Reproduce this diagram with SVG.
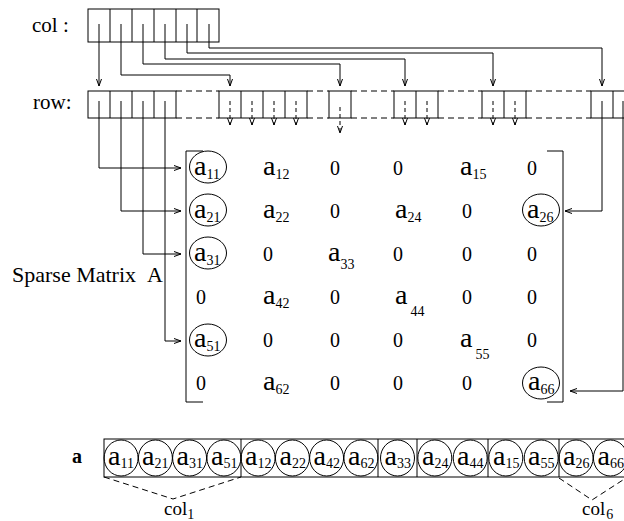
<svg xmlns="http://www.w3.org/2000/svg" width="624" height="521" viewBox="0 0 624 521">
<style>
.ln{stroke:#000;stroke-width:1;fill:none}
.dl{stroke:#000;stroke-width:1;fill:none;stroke-dasharray:6 4}
.dp{stroke:#000;stroke-width:1;fill:none;stroke-dasharray:4 3}
.t{font-family:"Liberation Serif","Times New Roman",serif;fill:#000}
.a{font-size:28px}
.s{font-size:14px}
.z{font-size:20px}
.lbl{font-size:21px}
.cir{stroke:#000;stroke-width:1;fill:none}
</style>
<defs>
<marker id="arr" markerUnits="userSpaceOnUse" markerWidth="10" markerHeight="8" viewBox="-8 -4 10 8" refX="0" refY="0" orient="auto">
<path d="M-7,-2.5 L0,0 L-7,2.5" fill="none" stroke="#000" stroke-width="1"/>
</marker>
</defs>
<rect width="624" height="521" fill="#fff"/>

<g id="labels">
<text class="t lbl" x="32" y="32">col :</text>
<text class="t lbl" x="33" y="109">row:</text>
<text class="t" style="font-size:22px" x="12" y="282">Sparse Matrix<tspan x="147">A</tspan></text>
<text class="t" style="font-size:20px;font-weight:bold" x="72" y="463">a</text>
</g>

<g id="col-array">
<rect class="ln" x="88" y="9" width="131" height="33"/>
<path class="ln" d="M110,9V42M132,9V42M154,9V42M176,9V42M197,9V42"/>
</g>

<g id="row-array">
<rect class="ln" x="88" y="91" width="88" height="27"/>
<path class="ln" d="M110,91V118M132,91V118M154,91V118"/>
<rect class="ln" x="219" y="91" width="88" height="27"/>
<path class="ln" d="M241,91V118M263,91V118M285,91V118"/>
<rect class="ln" x="329" y="91" width="22" height="27"/>
<rect class="ln" x="394" y="91" width="44" height="27"/>
<path class="ln" d="M416,91V118"/>
<rect class="ln" x="482" y="91" width="44" height="27"/>
<path class="ln" d="M504,91V118"/>
<rect class="ln" x="591" y="91" width="44" height="27"/>
<path class="ln" d="M613,91V118"/>
<path class="dl" d="M176,91H219M176,118H219M307,91H329M307,118H329M351,91H394M351,118H394M438,91H482M438,118H482M526,91H591M526,118H591"/>
</g>

<g id="connectors">
<path class="ln" marker-end="url(#arr)" d="M99,24V86"/>
<path class="ln" marker-end="url(#arr)" d="M121,24V75H230V86"/>
<path class="ln" marker-end="url(#arr)" d="M143,24V64H340V86"/>
<path class="ln" marker-end="url(#arr)" d="M165,24V59H405V86"/>
<path class="ln" marker-end="url(#arr)" d="M187,24V53H493V86"/>
<path class="ln" marker-end="url(#arr)" d="M209,24V48H602V86"/>
<path class="ln" marker-end="url(#arr)" d="M99,101V168H181"/>
<path class="ln" marker-end="url(#arr)" d="M121,101V211H181"/>
<path class="ln" marker-end="url(#arr)" d="M143,101V254H181"/>
<path class="ln" marker-end="url(#arr)" d="M165,101V341H181"/>
<path class="ln" marker-end="url(#arr)" d="M602,101V211H565"/>
<path class="ln" marker-end="url(#arr)" d="M623,101V391H570"/>
<path class="dp" marker-end="url(#arr)" d="M230,101V125"/>
<path class="dp" marker-end="url(#arr)" d="M252,101V125"/>
<path class="dp" marker-end="url(#arr)" d="M274,101V125"/>
<path class="dp" marker-end="url(#arr)" d="M296,101V125"/>
<path class="dp" marker-end="url(#arr)" d="M340,107V133"/>
<path class="dp" marker-end="url(#arr)" d="M405,101V125"/>
<path class="dp" marker-end="url(#arr)" d="M427,101V125"/>
<path class="dp" marker-end="url(#arr)" d="M493,101V125"/>
<path class="dp" marker-end="url(#arr)" d="M515,101V125"/>
<path class="dl" d="M104,477L173,499L241,477"/>
<path class="dl" d="M559,478L592,500L626,478"/>
</g>

<g id="matrix">
<path class="ln" d="M203,151H186V402H203"/>
<path class="ln" d="M547,151H563V402H547"/>
<ellipse class="cir" cx="208" cy="167" rx="18.5" ry="16"/>
<ellipse class="cir" cx="208" cy="210" rx="18.5" ry="16"/>
<ellipse class="cir" cx="208" cy="253" rx="18.5" ry="16"/>
<ellipse class="cir" cx="208" cy="340" rx="18.5" ry="16"/>
<ellipse class="cir" cx="541" cy="210" rx="18.5" ry="16"/>
<ellipse class="cir" cx="541" cy="383" rx="18.5" ry="16"/>
<!-- row 1 -->
<text class="t" x="194" y="175"><tspan class="a">a</tspan><tspan class="s" dy="4">11</tspan></text>
<text class="t" x="263" y="175"><tspan class="a">a</tspan><tspan class="s" dy="4">12</tspan></text>
<text class="t z" x="330" y="175">0</text>
<text class="t z" x="393" y="175">0</text>
<text class="t" x="460" y="175"><tspan class="a">a</tspan><tspan class="s" dy="4">15</tspan></text>
<text class="t z" x="527" y="175">0</text>
<!-- row 2 -->
<text class="t" x="194" y="218"><tspan class="a">a</tspan><tspan class="s" dy="4">21</tspan></text>
<text class="t" x="263" y="218"><tspan class="a">a</tspan><tspan class="s" dy="4">22</tspan></text>
<text class="t z" x="330" y="218">0</text>
<text class="t" x="395" y="218"><tspan class="a">a</tspan><tspan class="s" dy="4">24</tspan></text>
<text class="t z" x="462" y="218">0</text>
<text class="t" x="527" y="218"><tspan class="a">a</tspan><tspan class="s" dy="4">26</tspan></text>
<!-- row 3 -->
<text class="t" x="194" y="261"><tspan class="a">a</tspan><tspan class="s" dy="4">31</tspan></text>
<text class="t z" x="263" y="261">0</text>
<text class="t" x="328" y="261"><tspan class="a">a</tspan><tspan class="s" dy="8">33</tspan></text>
<text class="t z" x="393" y="261">0</text>
<text class="t z" x="462" y="261">0</text>
<text class="t z" x="527" y="261">0</text>
<!-- row 4 -->
<text class="t z" x="196" y="304">0</text>
<text class="t" x="263" y="304"><tspan class="a">a</tspan><tspan class="s" dy="4">42</tspan></text>
<text class="t z" x="330" y="304">0</text>
<text class="t" x="395" y="304"><tspan class="a">a</tspan><tspan class="s" dx="3" dy="12">44</tspan></text>
<text class="t z" x="462" y="304">0</text>
<text class="t z" x="527" y="304">0</text>
<!-- row 5 -->
<text class="t" x="194" y="347"><tspan class="a">a</tspan><tspan class="s" dy="4">51</tspan></text>
<text class="t z" x="263" y="347">0</text>
<text class="t z" x="330" y="347">0</text>
<text class="t z" x="393" y="347">0</text>
<text class="t" x="460" y="347"><tspan class="a">a</tspan><tspan class="s" dx="3" dy="12">55</tspan></text>
<text class="t z" x="527" y="347">0</text>
<!-- row 6 -->
<text class="t z" x="196" y="390">0</text>
<text class="t" x="263" y="390"><tspan class="a">a</tspan><tspan class="s" dy="4">62</tspan></text>
<text class="t z" x="330" y="390">0</text>
<text class="t z" x="393" y="390">0</text>
<text class="t z" x="462" y="390">0</text>
<text class="t" x="528" y="390"><tspan class="a">a</tspan><tspan class="s" dy="4">66</tspan></text>
</g>

<g id="value-array">
<rect class="ln" x="104" y="439" width="532" height="38"/>
<path class="ln" d="M241,439V477M378,439V477M417,439V477M488,439V477M559,439V477"/>
<g class="cir">
<ellipse cx="121.1" cy="458" rx="17" ry="18"/>
<ellipse cx="155.4" cy="458" rx="17" ry="18"/>
<ellipse cx="189.6" cy="458" rx="17" ry="18"/>
<ellipse cx="223.9" cy="458" rx="17" ry="18"/>
<ellipse cx="258.1" cy="458" rx="17" ry="18"/>
<ellipse cx="292.4" cy="458" rx="17" ry="18"/>
<ellipse cx="326.6" cy="458" rx="17" ry="18"/>
<ellipse cx="360.9" cy="458" rx="17" ry="18"/>
<ellipse cx="397.5" cy="458" rx="17" ry="18"/>
<ellipse cx="434.8" cy="458" rx="17" ry="18"/>
<ellipse cx="470.2" cy="458" rx="17" ry="18"/>
<ellipse cx="505.8" cy="458" rx="17" ry="18"/>
<ellipse cx="541.2" cy="458" rx="17" ry="18"/>
<ellipse cx="576.1" cy="458" rx="17" ry="18"/>
<ellipse cx="610.4" cy="458" rx="17" ry="18"/>
</g>
<text class="t" x="108" y="465"><tspan class="a">a</tspan><tspan class="s" dy="3">11</tspan></text>
<text class="t" x="142" y="465"><tspan class="a">a</tspan><tspan class="s" dy="3">21</tspan></text>
<text class="t" x="176.5" y="465"><tspan class="a">a</tspan><tspan class="s" dy="3">31</tspan></text>
<text class="t" x="211" y="465"><tspan class="a">a</tspan><tspan class="s" dy="3">51</tspan></text>
<text class="t" x="245" y="465"><tspan class="a">a</tspan><tspan class="s" dy="3">12</tspan></text>
<text class="t" x="279.5" y="465"><tspan class="a">a</tspan><tspan class="s" dy="3">22</tspan></text>
<text class="t" x="313.5" y="465"><tspan class="a">a</tspan><tspan class="s" dy="3">42</tspan></text>
<text class="t" x="348" y="465"><tspan class="a">a</tspan><tspan class="s" dy="3">62</tspan></text>
<text class="t" x="384.5" y="465"><tspan class="a">a</tspan><tspan class="s" dy="3">33</tspan></text>
<text class="t" x="422" y="465"><tspan class="a">a</tspan><tspan class="s" dy="3">24</tspan></text>
<text class="t" x="457" y="465"><tspan class="a">a</tspan><tspan class="s" dy="3">44</tspan></text>
<text class="t" x="493" y="465"><tspan class="a">a</tspan><tspan class="s" dy="3">15</tspan></text>
<text class="t" x="528" y="465"><tspan class="a">a</tspan><tspan class="s" dy="3">55</tspan></text>
<text class="t" x="563" y="465"><tspan class="a">a</tspan><tspan class="s" dy="3">26</tspan></text>
<text class="t" x="597.5" y="465"><tspan class="a">a</tspan><tspan class="s" dy="3">66</tspan></text>
<text class="t" style="font-size:19px" x="164" y="515">col<tspan class="s" dx="0" dy="4">1</tspan></text>
<text class="t" style="font-size:19px" x="582" y="515">col<tspan class="s" dx="1" dy="4">6</tspan></text>
</g>
</svg>
